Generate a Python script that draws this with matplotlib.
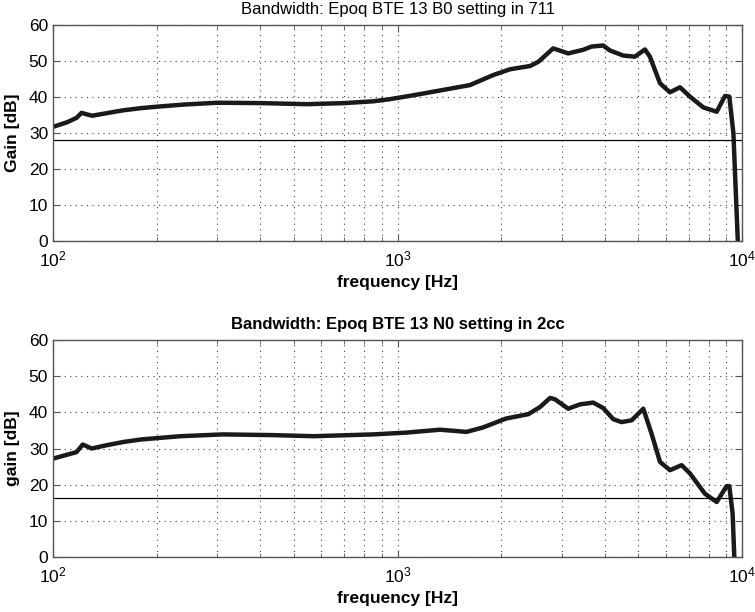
import matplotlib
matplotlib.use("Agg")
import matplotlib.pyplot as plt
from matplotlib.ticker import LogLocator, NullFormatter, MultipleLocator
import numpy as np

plt.rcParams['font.family'] = ['Liberation Sans Narrow', 'Liberation Sans', 'DejaVu Sans']

# Top panel: Epoq BTE 13 B0 in 711 coupler
freq_top = [100, 110, 117, 121, 125, 130, 145, 160, 180, 200, 240, 300, 400, 546, 700, 850,
            952, 1100, 1328, 1622, 1897, 2122, 2426, 2566, 2831, 3129, 3459, 3657, 3953,
            4139, 4525, 4889, 5228, 5403, 5780, 6179, 6606, 7062, 7723, 8445, 8925, 9186,
            9441, 9770]
gain_top = [31.7, 33.0, 34.2, 35.6, 35.2, 34.8, 35.6, 36.3, 36.9, 37.3, 37.9, 38.4, 38.3,
            38.0, 38.3, 38.8, 39.4, 40.4, 41.8, 43.3, 46.1, 47.7, 48.6, 49.8, 53.5, 52.1,
            53.1, 54.0, 54.3, 52.9, 51.5, 51.2, 53.2, 51.2, 43.8, 41.3, 42.7, 40.1, 37.1,
            35.9, 40.3, 40.1, 29.9, -5.0]
ref_top = 28.0

# Bottom panel: Epoq BTE 13 N0 in 2cc coupler
freq_bot = [100, 117, 122, 129.5, 143, 160, 180, 234, 312, 436, 569, 849, 1062, 1328, 1586,
            1768, 2068, 2398, 2595, 2773, 2866, 3129, 3384, 3698, 3953, 4230, 4471, 4782,
            5170, 5463, 5780, 6179, 6678, 7062, 7802, 8445, 9020, 9186, 9392, 9540]
gain_bot = [27.2, 29.0, 31.1, 30.0, 30.9, 31.8, 32.5, 33.4, 33.9, 33.7, 33.4, 33.9, 34.4,
            35.2, 34.6, 35.8, 38.3, 39.5, 41.5, 44.0, 43.6, 41.0, 42.2, 42.7, 41.2, 38.1,
            37.3, 37.8, 41.0, 34.1, 26.3, 24.0, 25.4, 23.1, 17.5, 15.2, 19.6, 19.6, 12.0, -5.0]
ref_bot = 16.4

fig = plt.figure(figsize=(7.55, 6.12), dpi=100)
ax1 = fig.add_axes([0.0702, 0.6062, 0.9126, 0.3530])
ax2 = fig.add_axes([0.0702, 0.0899, 0.9126, 0.3545])

def style(ax, title, title_bold, ylabel):
    ax.set_xscale('log')
    ax.set_xlim(100, 10000)
    ax.set_ylim(0, 60)
    ax.yaxis.set_major_locator(MultipleLocator(10))
    ax.xaxis.set_major_locator(LogLocator(base=10, numticks=10))
    ax.xaxis.set_minor_locator(LogLocator(base=10, subs=np.arange(2, 10), numticks=20))
    ax.xaxis.set_minor_formatter(NullFormatter())
    ax.grid(True, which='major', linestyle=(0, (1, 4)), color='#444444', linewidth=0.8)
    ax.grid(True, which='minor', axis='x', linestyle=(0, (1, 4)), color='#444444', linewidth=0.8)
    ax.tick_params(which='both', direction='in', top=True, right=True, labelsize=12.5,
                   color='#555555')
    ax.tick_params(which='major', length=5)
    ax.tick_params(which='minor', length=3)
    ax.tick_params(axis='x', pad=6)
    for s in ax.spines.values():
        s.set_color('#555555')
        s.set_linewidth(1.0)
    ax.set_title(title, fontsize=12, fontweight='bold' if title_bold else 'normal', pad=8)
    ax.set_xlabel('frequency [Hz]', fontsize=12.5, fontweight='bold', labelpad=4)
    ax.set_ylabel(ylabel, fontsize=12.5, fontweight='bold', labelpad=6)

ax1.plot(freq_top, gain_top, color='#1a1a1a', linewidth=3.2, solid_joinstyle='round')
ax1.axhline(ref_top, color='black', linewidth=0.9)
style(ax1, 'Bandwidth: Epoq BTE 13 B0 setting in 711', False, 'Gain [dB]')

ax2.plot(freq_bot, gain_bot, color='#1a1a1a', linewidth=3.2, solid_joinstyle='round')
ax2.axhline(ref_bot, color='black', linewidth=0.9)
style(ax2, 'Bandwidth: Epoq BTE 13 N0 setting in 2cc', True, 'gain [dB]')

fig.savefig('out.png', dpi=100)
